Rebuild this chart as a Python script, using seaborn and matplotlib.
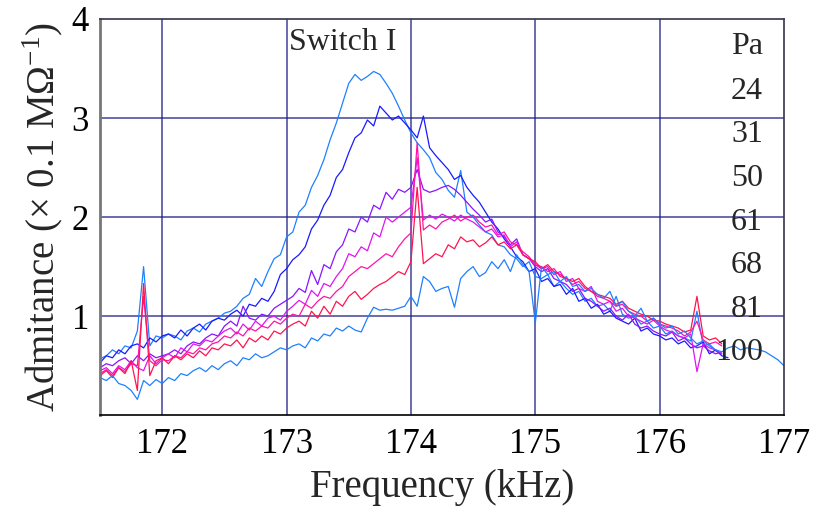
import numpy as np
import pandas as pd
import matplotlib
matplotlib.use('Agg')
import matplotlib.pyplot as plt
import seaborn as sns

sns.set_style('white')
plt.rcParams['font.family'] = ['Liberation Serif', 'DejaVu Serif']
plt.rcParams['mathtext.fontset'] = 'custom'
plt.rcParams['mathtext.rm'] = 'Liberation Serif'

# pressures (Pa) and sweep start / step (kHz)
pressures = ['24', '31', '50', '61', '68', '81', '100']
f_start, f_step = 171.5, 0.05

# admittance (x 0.1 MOhm^-1), one value per 0.05 kHz from 171.5 kHz
adm_24 = [0.57, 0.60, 0.66, 0.62, 0.70, 0.68, 0.85, 1.50, 0.70, 0.80, 0.78,
          0.82, 0.80, 0.76, 0.85, 0.88, 0.84, 0.92, 0.95, 0.98, 1.03,
          1.05, 1.10, 1.18, 1.22, 1.38, 1.30, 1.45, 1.58, 1.62, 1.80,
          1.85, 2.05, 2.12, 2.30, 2.42, 2.58, 2.78, 2.95, 3.15, 3.35, 3.44,
          3.38, 3.42, 3.47, 3.44, 3.35, 3.25, 3.12, 2.98, 2.85,
          2.75, 2.68, 2.60, 2.45, 2.38, 2.27, 2.20, 2.47, 2.05, 2.00,
          1.92, 1.85, 1.82, 1.72, 1.70, 1.62, 1.58, 1.50, 1.55, 1.40,
          1.38, 1.42, 1.30, 1.35, 1.28, 1.22, 1.25, 1.15, 1.18, 1.10,
          1.12, 1.05, 1.20, 1.02, 0.98, 1.00, 0.92, 0.95, 0.88, 0.90,
          0.82, 0.85, 0.80, 0.78, 0.75, 1.05, 0.70, 0.72, 0.65, 0.62]
adm_31 = [0.53, 0.60, 0.58, 0.66, 0.62, 0.70, 0.72, 0.68, 0.78, 0.74, 0.80,
          0.82, 0.78, 0.86, 0.80, 0.88, 0.92, 0.86, 0.95, 0.98, 0.96,
          1.02, 1.06, 1.00, 1.12, 1.10, 1.18, 1.15, 1.25, 1.42, 1.48, 1.57,
          1.62, 1.70, 1.88, 1.97, 2.12, 2.22, 2.40, 2.48, 2.65, 2.80,
          2.85, 2.98, 2.92, 3.12, 3.05, 2.98, 3.02, 2.95, 2.88, 2.80,
          3.02, 2.70, 2.62, 2.55, 2.48, 2.38, 2.42, 2.30, 2.22, 2.15,
          2.05, 1.95, 1.88, 1.78, 1.70, 1.60, 1.55, 1.45, 1.48, 1.35,
          1.38, 1.30, 1.32, 1.22, 1.28, 1.15, 1.18, 1.08, 1.12, 1.02,
          1.05, 0.98, 0.95, 0.92, 0.98, 0.85, 0.88, 0.82, 0.80, 0.76,
          0.78, 0.72, 0.75, 0.68, 0.70, 0.74, 0.62, 0.66, 0.60, 0.58]
adm_50 = [0.48, 0.52, 0.50, 0.55, 0.58, 0.52, 0.60, 0.55, 0.62, 0.58, 0.60,
          0.62, 0.66, 0.62, 0.70, 0.74, 0.72, 0.78, 0.82, 0.80, 0.90,
          0.95, 0.90, 1.10, 0.98, 0.96, 1.02, 1.00, 1.08, 1.12, 1.16,
          1.20, 1.28, 1.24, 1.46, 1.32, 1.52, 1.48, 1.65, 1.72, 1.88,
          1.85, 2.00, 1.95, 2.12, 2.08, 2.25, 2.18, 2.28, 2.25, 2.30,
          2.48, 2.28, 2.25, 2.27, 2.30, 2.32, 2.28, 2.22, 2.15, 2.08,
          2.02, 1.95, 1.98, 1.85, 1.80, 1.72, 1.78, 1.62, 1.58, 1.50,
          1.45, 1.48, 1.38, 1.35, 1.32, 1.25, 1.28, 1.18, 1.15, 1.10,
          1.05, 1.08, 1.00, 0.96, 1.02, 0.92, 0.88, 0.90, 0.85, 0.82,
          0.80, 0.84, 0.75, 0.78, 0.72, 0.68, 0.70, 0.65, 0.62, 0.64]
adm_61 = [0.45, 0.48, 0.42, 0.50, 0.46, 0.55, 0.48, 0.45, 0.60, 0.52, 0.58,
          0.62, 0.58, 0.68, 0.64, 0.72, 0.70, 0.76, 0.74, 0.80, 0.85,
          0.88, 0.82, 0.92, 0.86, 0.95, 0.90, 0.98, 1.00, 0.96, 1.05,
          1.10, 1.16, 1.12, 1.26, 1.20, 1.33, 1.30, 1.40, 1.48, 1.63,
          1.60, 1.70, 1.66, 1.84, 1.80, 2.00, 1.95, 2.00, 2.05, 2.10,
          2.60, 1.97, 2.02, 1.98, 2.03, 2.00, 1.96, 2.02, 1.98, 1.95,
          1.90, 1.85, 1.88, 1.80, 1.82, 1.70, 1.75, 1.62, 1.58, 1.52,
          1.48, 1.50, 1.42, 1.45, 1.35, 1.38, 1.28, 1.25, 1.30, 1.15,
          1.12, 1.15, 1.05, 1.08, 1.00, 0.98, 0.95, 0.92, 0.96, 0.90,
          0.86, 0.84, 0.80, 0.78, 0.82, 0.44, 0.72, 0.68, 0.66, 0.62]
adm_68 = [0.42, 0.46, 0.40, 0.48, 0.44, 0.52, 0.50, 1.20, 0.55, 0.50, 0.56,
          0.55, 0.60, 0.58, 0.64, 0.62, 0.68, 0.66, 0.72, 0.74, 0.80,
          0.78, 0.84, 0.80, 0.88, 0.85, 0.90, 0.88, 0.95, 0.92, 0.98,
          1.02, 1.00, 1.12, 1.08, 1.15, 1.20, 1.18, 1.25, 1.30, 1.40,
          1.45, 1.50, 1.48, 1.53, 1.58, 1.63, 1.60, 1.70, 1.78, 1.84,
          2.75, 1.87, 1.92, 1.88, 1.95, 1.98, 2.02, 1.96, 2.00, 2.02,
          1.95, 1.90, 1.92, 1.82, 1.85, 1.75, 1.72, 1.65, 1.60, 1.52,
          1.50, 1.45, 1.48, 1.40, 1.38, 1.32, 1.35, 1.28, 1.25, 1.20,
          1.18, 1.15, 1.10, 1.12, 1.05, 1.02, 1.00, 0.95, 0.98, 0.92,
          0.90, 0.88, 0.85, 0.80, 0.84, 0.95, 0.76, 0.72, 0.74, 0.70]
adm_81 = [0.40, 0.45, 0.38, 0.48, 0.42, 0.55, 0.25, 1.33, 0.40, 0.55, 0.58,
          0.52, 0.60, 0.56, 0.62, 0.58, 0.65, 0.60, 0.68, 0.66, 0.72,
          0.70, 0.76, 0.68, 0.78, 0.74, 0.80, 0.76, 0.85, 0.82, 0.88,
          0.92, 0.95, 0.90, 1.05, 0.98, 1.10, 1.02, 1.15, 1.10, 1.20,
          1.25, 1.17, 1.22, 1.28, 1.32, 1.35, 1.40, 1.45, 1.42, 1.55,
          2.30, 1.53, 1.58, 1.63, 1.60, 1.72, 1.68, 1.80, 1.75, 1.77,
          1.70, 1.74, 1.80, 1.72, 1.75, 1.68, 1.72, 1.62, 1.58, 1.55,
          1.48, 1.52, 1.45, 1.42, 1.38, 1.35, 1.38, 1.30, 1.25, 1.22,
          1.20, 1.18, 1.12, 1.15, 1.08, 1.05, 1.02, 1.00, 0.96, 0.95,
          0.92, 0.90, 0.88, 0.84, 0.86, 1.20, 0.80, 0.76, 0.78, 0.72]
adm_100 = [0.38, 0.35, 0.40, 0.32, 0.30, 0.25, 0.16, 0.35, 0.30, 0.36, 0.32,
           0.38, 0.35, 0.42, 0.40, 0.45, 0.48, 0.44, 0.50, 0.46, 0.52,
           0.55, 0.50, 0.58, 0.56, 0.62, 0.58, 0.60, 0.64, 0.68, 0.66,
           0.70, 0.72, 0.68, 0.78, 0.75, 0.82, 0.80, 0.88, 0.85, 0.90,
           0.86, 0.84, 0.98, 1.09, 1.06, 1.07, 1.06, 1.08, 1.10, 1.20,
           1.10, 1.40, 1.35, 1.25, 1.28, 1.30, 1.09, 1.38, 1.45, 1.50,
           1.40, 1.44, 1.55, 1.48, 1.57, 1.45, 1.62, 1.52, 1.45, 0.93,
           1.50, 1.42, 1.45, 1.35, 1.40, 1.30, 1.32, 1.25, 1.28, 1.22,
           1.18, 1.25, 1.10, 1.15, 1.05, 1.00, 1.08, 0.95, 0.98, 0.92,
           0.88, 0.90, 0.82, 0.85, 0.78, 0.72, 0.75, 0.70, 0.66, 0.64,
           0.68, 0.70, 0.66, 0.68, 0.67, 0.66, 0.64, 0.60, 0.56, 0.50]

series = [adm_24, adm_31, adm_50, adm_61, adm_68, adm_81, adm_100]
colors = ['#1f80ff', '#1a1aff', '#8a14ff', '#e014f0', '#ff14a8', '#ff1450', '#1f80ff']

frames = []
for p, vals in zip(pressures, series):
    f = f_start + f_step * np.arange(len(vals))
    frames.append(pd.DataFrame({'freq': f, 'adm': vals, 'pa': p}))
df = pd.concat(frames, ignore_index=True)

fig = plt.figure(figsize=(8.27, 5.12), dpi=100)
ax = fig.add_axes([0.121, 0.189, 0.827, 0.774])

grid_c = '#20208a'
for x in range(172, 177):
    ax.axvline(x, color=grid_c, lw=1.1, alpha=0.85, zorder=0)
for y in (1, 2, 3):
    ax.axhline(y, color=grid_c, lw=1.1, alpha=0.85, zorder=0)

sns.lineplot(data=df, x='freq', y='adm', hue='pa', hue_order=pressures,
             palette=dict(zip(pressures, colors)), estimator=None, sort=False,
             lw=0.9, legend=False, ax=ax)

ax.set_xlim(171.5, 177)
ax.set_ylim(0, 4)
ax.set_xticks(range(172, 178))
ax.set_xticks(np.arange(171.6, 177.0, 0.2), minor=True)
ax.set_yticks([1, 2, 3, 4])
ax.tick_params(axis='both', which='both', direction='in', labelsize=25,
               colors='black')
ax.tick_params(axis='x', which='major', length=6, pad=9)
ax.tick_params(axis='x', which='minor', length=3)
ax.tick_params(axis='y', which='major', length=4, pad=8)

ax.set_xlabel('Frequency (kHz)', fontsize=28, labelpad=6)
ax.set_ylabel(r'Admitance ($\times$ 0.1 M$\Omega^{-1}$)', fontsize=28, labelpad=4)

for side in ('top', 'right'):
    ax.spines[side].set_color('#33334d')
    ax.spines[side].set_linewidth(1.2)
ax.spines['left'].set_color('#777777')
ax.spines['left'].set_linewidth(2)
ax.spines['bottom'].set_color('black')
ax.spines['bottom'].set_linewidth(1.2)

ax.text(173.02, 3.76, 'Switch I', fontsize=23, ha='left', va='center')
ax.text(176.83, 3.72, 'Pa', fontsize=23, ha='right', va='center')
for i, p in enumerate(pressures):
    ax.text(176.83, 3.27 - 0.44 * i, p, fontsize=23, ha='right', va='center')

fig.savefig('out.png', dpi=100)
